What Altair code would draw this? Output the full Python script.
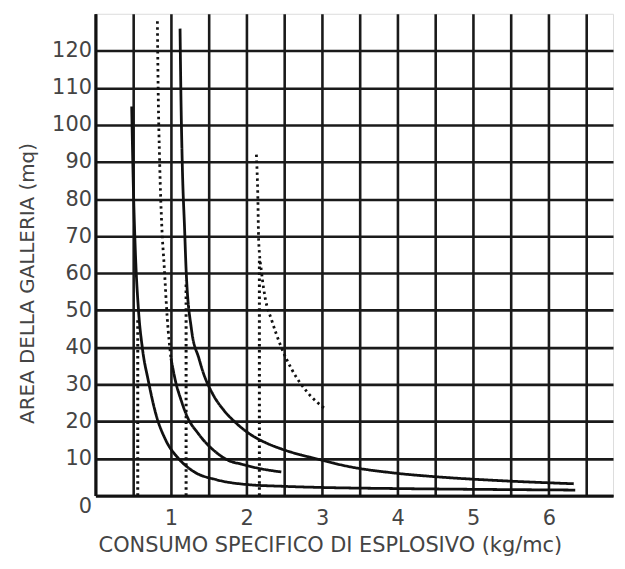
import altair as alt
import pandas as pd

# Solid curve, lowest
s1_x = [0.48, 0.50, 0.53, 0.57, 0.62, 0.70, 0.80, 0.93, 1.10, 1.30, 1.60, 2.00, 2.50, 3.00, 4.00, 5.00, 6.35]
s1_y = [105, 85, 65, 50, 40, 31, 22, 15, 10, 6.5, 4.3, 3.0, 2.5, 2.2, 1.9, 1.7, 1.5]

# Middle curve: dotted upper part, solid lower part
m_dot_x = [0.82, 0.83, 0.85, 0.88, 0.91, 0.95, 1.00]
m_dot_y = [128, 110, 90, 72, 62, 48, 37]
m_sol_x = [1.00, 1.07, 1.13, 1.20, 1.37, 1.59, 1.76, 1.93, 2.20, 2.46]
m_sol_y = [37, 30, 26, 22, 16.5, 11.8, 9.5, 8.5, 7.2, 6.4]

# Solid curve, upper
s3_x = [1.12, 1.13, 1.15, 1.18, 1.20, 1.27, 1.37, 1.43, 1.55, 1.70, 1.85, 2.03, 2.25, 2.46, 2.95, 3.34, 4.00, 4.50, 5.30, 6.33]
s3_y = [126, 110, 89, 72, 61, 45, 37, 33, 27.5, 23, 19.8, 16.8, 14.3, 12.6, 9.8, 7.9, 6.0, 5.1, 4.1, 3.2]

# Dotted curve on the right
d3_x = [2.13, 2.15, 2.16, 2.20, 2.25, 2.33, 2.46, 2.60, 2.80, 3.04]
d3_y = [92, 80, 69, 60, 53, 47.5, 40, 34, 28, 23.4]

# Dotted vertical drops
v_x = [0.56, 1.20, 2.17]
v_top = [48, 58, 64]

x_ticks = [i * 0.5 for i in range(0, 15)]
y_ticks = list(range(0, 121, 10))

rows = []
for name, style, xs, ys in [
    ("s1", "solid", s1_x, s1_y),
    ("m_dot", "dotted", m_dot_x, m_dot_y),
    ("m_sol", "solid", m_sol_x, m_sol_y),
    ("s3", "solid", s3_x, s3_y),
    ("d3", "dotted", d3_x, d3_y),
]:
    for xv, yv in zip(xs, ys):
        rows.append({"x": xv, "y": yv, "series": name, "style": style})
df = pd.DataFrame(rows)
vdf = pd.DataFrame({"x": v_x, "y": [0] * len(v_x), "y2": v_top})

font = "DejaVu Sans"

xscale = alt.Scale(domain=[0, 6.85], nice=False, zero=False)
yscale = alt.Scale(domain=[0, 130], nice=False)

xaxis = alt.Axis(
    values=x_ticks,
    labelExpr="(datum.value % 1 == 0 && datum.value > 0) ? format(datum.value, 'd') : ''",
    title="CONSUMO SPECIFICO DI ESPLOSIVO (kg/mc)",
    titleX=236, titleY=50, titleAlign="center", titleBaseline="middle",
    titleFont=font, titleFontSize=21, titleFontWeight="normal", titleColor="#444",
    labelFont=font, labelFontSize=21, labelColor="#444", labelPadding=12,
    ticks=False, grid=True, gridColor="#1a1a1a", gridWidth=2.6, gridOpacity=1,
    domain=True, domainColor="#111", domainWidth=3,
)
yaxis = alt.Axis(
    values=y_ticks,
    title="AREA DELLA GALLERIA (mq)",
    titleX=-68, titleY=271, titleAlign="center", titleBaseline="middle",
    titleFont=font, titleFontSize=20, titleFontWeight="normal", titleColor="#444",
    labelFont=font, labelFontSize=21, labelColor="#444", labelPadding=4,
    labelBaseline=alt.condition("datum.value == 0", alt.value("top"), alt.value("middle")),
    ticks=False, grid=True, gridColor="#1a1a1a", gridWidth=2.6, gridOpacity=1,
    domain=True, domainColor="#111", domainWidth=3,
)

lines = alt.Chart(df).mark_line(color="#111", strokeWidth=2.8, interpolate="monotone").encode(
    x=alt.X("x:Q", scale=xscale, axis=xaxis),
    y=alt.Y("y:Q", scale=yscale, axis=yaxis),
    detail="series:N",
    strokeDash=alt.StrokeDash(
        "style:N",
        scale=alt.Scale(domain=["solid", "dotted"], range=[[1, 0], [2.5, 3.5]]),
        legend=None,
    ),
)

drops = alt.Chart(vdf).mark_rule(color="#111", strokeWidth=3, strokeDash=[2.5, 3.5]).encode(
    x="x:Q", y="y:Q", y2="y2:Q"
)

chart = alt.layer(lines, drops).properties(
    width=521, height=485,
    autosize=alt.AutoSizeParams(type="none"),
    padding={"left": 88, "top": 4, "right": 4, "bottom": 66},
).configure_view(stroke="#111", strokeWidth=3).configure(background="white")

chart.save("out.html", embed_options={"renderer": "svg", "actions": False})
